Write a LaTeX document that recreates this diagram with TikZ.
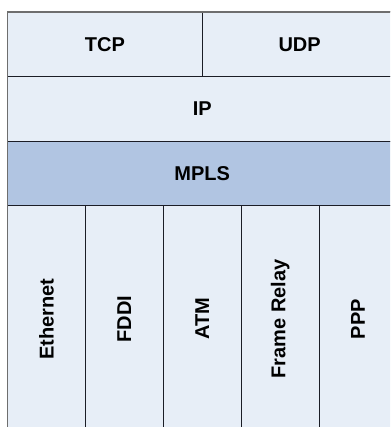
\documentclass[tikz,border=0pt]{standalone}
\usepackage{fontspec}
\setmainfont{Liberation Sans}
\definecolor{cellfill}{HTML}{E7EEF7}
\definecolor{mplsfill}{HTML}{B1C5E2}
\definecolor{rulecol}{HTML}{1B1D26}
\definecolor{framecol}{HTML}{6E6E6E}
\tikzset{
  cell/.style 2 args={draw=rulecol, line width=1pt, fill=cellfill,
    rectangle, anchor=north west, inner sep=0pt, outer sep=0pt,
    minimum width=#1, minimum height=#2,
    font=\fontsize{20}{24}\selectfont\bfseries},
  vlabel/.style={rotate=90, font=\fontsize{20}{24}\selectfont\bfseries}
}
\begin{document}
\begin{tikzpicture}[x=1pt,y=-1pt]
  \useasboundingbox (0,0) rectangle (390,427);
  \clip (0,0) rectangle (390,427);
  % transport layer
  \node[cell={194.75pt}{64.5pt}] (tcp) at (7.5,12) {TCP};
  \node[cell={194.75pt}{64.5pt}] (udp) at (202.25,12) {UDP};
  % network layer
  \node[cell={389.5pt}{65pt}] (ip) at (7.5,76.5) {IP};
  % label switching
  \node[cell={389.5pt}{64.5pt}, fill=mplsfill] (mpls) at (7.5,141.5) {MPLS};
  % link layers
  \foreach \name/\txt [count=\i from 0] in
      {eth/Ethernet, fddi/FDDI, atm/ATM, fr/Frame Relay, ppp/PPP} {
    \node[cell={77.9pt}{226pt}] (\name) at ({7.5+77.9*\i},206) {};
    \node[vlabel] at (\name.center) {\txt};
  }
  % outer frame
  \draw[framecol, line width=1.5pt] (tcp.north west) rectangle (ppp.south east);
\end{tikzpicture}
\end{document}
